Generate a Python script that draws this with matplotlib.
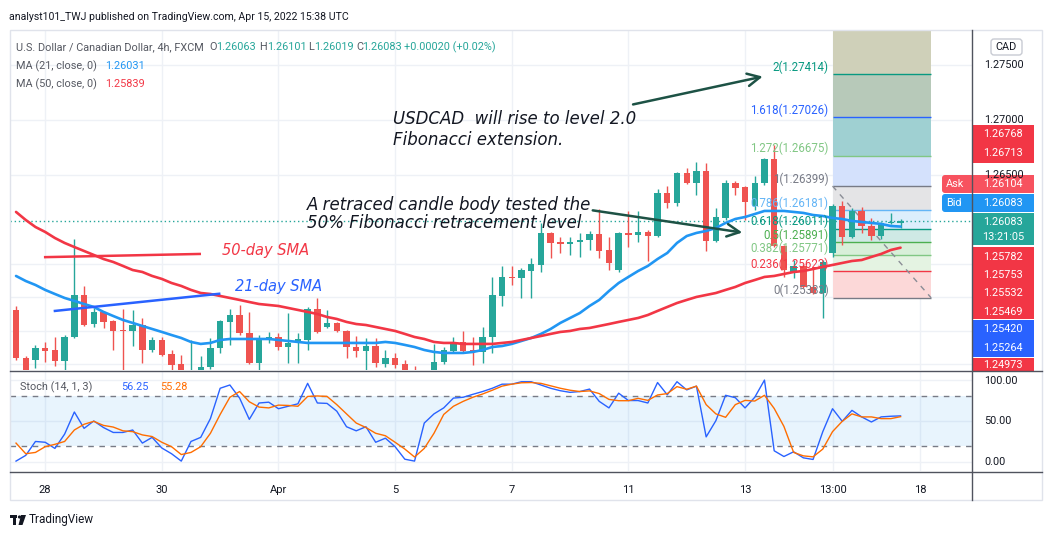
import numpy as np
import matplotlib.pyplot as plt
from matplotlib.patches import Rectangle, FancyBboxPatch, Polygon, Circle

plt.rcParams['font.family'] = ['Roboto', 'DejaVu Sans']

# USD/CAD 4h candles
opens = [1.25273, 1.24836, 1.24818, 1.24927, 1.24909, 1.24809, 1.25027, 1.25409, 1.25145, 1.25255,
         1.25173, 1.25091, 1.25082, 1.25136, 1.24909, 1.25000, 1.24873, 1.24782, 1.24673, 1.24709,
         1.24755, 1.24927, 1.25164, 1.25227, 1.25064, 1.24791, 1.25009, 1.25027, 1.24936, 1.24973,
         1.25000, 1.25282, 1.25118, 1.25155, 1.25082, 1.24936, 1.24900, 1.24945, 1.24782, 1.24836,
         1.24782, 1.24709, 1.24636, 1.24709, 1.24800, 1.24900, 1.24982, 1.24909, 1.24891, 1.25027,
         1.25400, 1.25573, 1.25564, 1.25627, 1.25682, 1.25973, 1.25891, 1.25873, 1.25891, 1.25909,
         1.25964, 1.25818, 1.25636, 1.25973, 1.25955, 1.25982, 1.25945, 1.26336, 1.26245, 1.26518,
         1.26427, 1.26536, 1.25900, 1.26109, 1.26427, 1.26391, 1.26218, 1.26427, 1.26645, 1.25855,
         1.25609, 1.25673, 1.25482, 1.25427, 1.25791, 1.26218, 1.25936, 1.26173, 1.26036, 1.25945,
         1.26064, 1.26063]
highs = [1.25309, 1.24855, 1.24955, 1.24982, 1.25027, 1.25045, 1.25918, 1.25491, 1.25291, 1.25264,
         1.25182, 1.25282, 1.25273, 1.25200, 1.25027, 1.25027, 1.24909, 1.24864, 1.25000, 1.24855,
         1.25018, 1.25182, 1.25282, 1.25318, 1.25255, 1.25045, 1.25073, 1.25064, 1.25245, 1.25064,
         1.25300, 1.25382, 1.25273, 1.25164, 1.25091, 1.25036, 1.25018, 1.25018, 1.24909, 1.24882,
         1.24818, 1.24764, 1.24709, 1.24964, 1.24936, 1.25027, 1.25082, 1.25027, 1.25118, 1.25573,
         1.25673, 1.25673, 1.25655, 1.25745, 1.26064, 1.25982, 1.25936, 1.25936, 1.25973, 1.25991,
         1.26191, 1.25936, 1.25982, 1.26173, 1.26173, 1.26000, 1.26373, 1.26400, 1.26527, 1.26564,
         1.26618, 1.26609, 1.26200, 1.26455, 1.26445, 1.26400, 1.26491, 1.26655, 1.26773, 1.25864,
         1.25727, 1.25691, 1.25664, 1.25727, 1.26236, 1.26264, 1.26200, 1.26209, 1.26109, 1.26073,
         1.26155, 1.26101]
lows = [1.24818, 1.24691, 1.24745, 1.24800, 1.24764, 1.24727, 1.25018, 1.25127, 1.25118, 1.25109,
        1.24909, 1.24709, 1.24945, 1.24791, 1.24891, 1.24855, 1.24727, 1.24691, 1.24655, 1.24682,
        1.24736, 1.24882, 1.24955, 1.25045, 1.24782, 1.24727, 1.24973, 1.24909, 1.24791, 1.24791,
        1.24909, 1.25064, 1.25109, 1.25073, 1.24836, 1.24845, 1.24727, 1.24755, 1.24755, 1.24745,
        1.24682, 1.24591, 1.24591, 1.24682, 1.24782, 1.24891, 1.24891, 1.24773, 1.24791, 1.24882,
        1.25309, 1.25500, 1.25382, 1.25382, 1.25618, 1.25745, 1.25791, 1.25773, 1.25755, 1.25818,
        1.25745, 1.25636, 1.25618, 1.25845, 1.25891, 1.25718, 1.25936, 1.26200, 1.26218, 1.26418,
        1.26318, 1.25809, 1.25891, 1.26091, 1.26318, 1.26091, 1.26182, 1.26409, 1.25845, 1.25573,
        1.25564, 1.25473, 1.25418, 1.25200, 1.25755, 1.25864, 1.25927, 1.25973, 1.25909, 1.25918,
        1.26055, 1.26019]
closes = [1.24836, 1.24709, 1.24927, 1.24900, 1.24809, 1.25027, 1.25409, 1.25136, 1.25255, 1.25164,
          1.25082, 1.25082, 1.25136, 1.24909, 1.25000, 1.24864, 1.24773, 1.24709, 1.24709, 1.24755,
          1.24927, 1.25173, 1.25227, 1.25064, 1.24791, 1.25018, 1.25027, 1.24936, 1.24973, 1.25009,
          1.25282, 1.25073, 1.25155, 1.25082, 1.24936, 1.24900, 1.24945, 1.24791, 1.24836, 1.24773,
          1.24709, 1.24655, 1.24682, 1.24800, 1.24909, 1.24982, 1.24900, 1.24891, 1.25027, 1.25409,
          1.25573, 1.25564, 1.25636, 1.25691, 1.25973, 1.25882, 1.25873, 1.25891, 1.25909, 1.25964,
          1.25809, 1.25700, 1.25973, 1.25955, 1.25982, 1.25945, 1.26336, 1.26245, 1.26518, 1.26427,
          1.26536, 1.25900, 1.26118, 1.26427, 1.26382, 1.26255, 1.26427, 1.26645, 1.25855, 1.25636,
          1.25673, 1.25482, 1.25427, 1.25709, 1.26218, 1.25936, 1.26173, 1.26036, 1.25945, 1.26064,
          1.26073, 1.26083]

ma21 = [1.25582, 1.25536, 1.25500, 1.25455, 1.25418, 1.25382, 1.25355, 1.25327, 1.25300, 1.25255,
        1.25218, 1.25182, 1.25155, 1.25127, 1.25100, 1.25073, 1.25045, 1.25018, 1.24982, 1.24964,
        1.24973, 1.25000, 1.25009, 1.25009, 1.25009, 1.25009, 1.25009, 1.25000, 1.24991, 1.24982,
        1.24973, 1.24973, 1.24973, 1.24973, 1.24973, 1.24973, 1.24973, 1.24973, 1.24982, 1.24973,
        1.24955, 1.24936, 1.24909, 1.24891, 1.24882, 1.24882, 1.24882, 1.24891, 1.24909, 1.24936,
        1.24945, 1.24964, 1.24991, 1.25018, 1.25055, 1.25100, 1.25155, 1.25200, 1.25245, 1.25309,
        1.25364, 1.25445, 1.25518, 1.25573, 1.25627, 1.25673, 1.25736, 1.25791, 1.25882, 1.25945,
        1.25973, 1.25991, 1.26018, 1.26064, 1.26100, 1.26118, 1.26145, 1.26173, 1.26173, 1.26173,
        1.26164, 1.26155, 1.26136, 1.26127, 1.26109, 1.26100, 1.26082, 1.26073, 1.26064, 1.26055,
        1.26036, 1.26031]
ma50 = [1.26164, 1.26091, 1.26027, 1.25982, 1.25927, 1.25882, 1.25845, 1.25809, 1.25773, 1.25736,
        1.25709, 1.25673, 1.25636, 1.25618, 1.25582, 1.25555, 1.25518, 1.25491, 1.25455, 1.25427,
        1.25418, 1.25400, 1.25382, 1.25364, 1.25345, 1.25327, 1.25318, 1.25309, 1.25291, 1.25273,
        1.25255, 1.25236, 1.25209, 1.25191, 1.25164, 1.25145, 1.25136, 1.25118, 1.25100, 1.25082,
        1.25055, 1.25027, 1.25009, 1.24982, 1.24973, 1.24973, 1.24964, 1.24964, 1.24964, 1.24964,
        1.24973, 1.24982, 1.25000, 1.25018, 1.25036, 1.25055, 1.25073, 1.25082, 1.25100, 1.25109,
        1.25127, 1.25145, 1.25164, 1.25182, 1.25200, 1.25227, 1.25264, 1.25300, 1.25336, 1.25364,
        1.25391, 1.25409, 1.25427, 1.25455, 1.25482, 1.25518, 1.25545, 1.25573, 1.25582, 1.25600,
        1.25618, 1.25627, 1.25645, 1.25664, 1.25682, 1.25700, 1.25718, 1.25727, 1.25755, 1.25782,
        1.25818, 1.25839]

stoch_k = [1, 8, 25, 24, 16.5, 34, 61, 41, 50, 42,
           36, 36, 39, 23, 30, 17, 10, 1, 25, 30,
           53, 90, 94, 78, 52, 72, 73, 65, 68, 71,
           96, 72, 71.5, 62, 43, 38, 43, 24, 29, 18.6,
           3.3, 1, 47.5, 58.7, 66, 78, 79, 82.6, 86, 90,
           95, 95, 98, 98, 94, 90, 87, 85, 86, 89,
           74, 66, 84, 75, 75, 72, 97, 82, 98, 88,
           92.6, 30.6, 50.4, 81.4, 78.5, 66, 79, 100, 13.6, 6.6,
           12.4, 5, 3, 37, 65, 49.6, 63, 55, 48.8, 55,
           55.8, 56.25]
stoch_d = [23, 10, 11.6, 18.6, 21.5, 25, 39, 46, 49.6, 44.6,
           42.6, 38, 37, 33, 31, 24, 18.6, 9, 11.6, 18.6,
           35, 58, 79, 86, 73.5, 67, 66, 69.4, 69, 68,
           80, 80.6, 80, 70, 58.7, 47.5, 42, 35, 32, 24,
           15.7, 6, 16.5, 35, 58, 68, 74, 79, 83, 87.6,
           92.6, 95, 96.7, 97, 96, 93, 90, 87.6, 86, 86.8,
           83.5, 76.4, 74.8, 74.8, 77.7, 75.2, 81.8, 83.5, 92, 88.8,
           92.6, 70, 58.7, 54.5, 70, 75.2, 74.4, 81.4, 65.3, 43.4,
           11.6, 7.4, 6.2, 15.7, 37, 49.6, 58.7, 55, 55, 52.9,
           52.9, 55.28]

# time axis
tick_pos = [3, 15, 27, 39, 51, 63, 75, 84, 93]
tick_labels = ['28', '30', 'Apr', '5', '7', '11', '13', '13:00', '18']
price_grid = [1.275, 1.27, 1.265, 1.25691, 1.25391, 1.25082, 1.24782]

# fibonacci extension
fib_levels = ['0', '0.236', '0.382', '0.5', '0.618', '0.786', '1', '1.272', '1.618', '2']
fib_prices = [1.25383, 1.25623, 1.25771, 1.25891, 1.26011, 1.26181, 1.26399, 1.26675, 1.27026, 1.27414]
fib_line_colors = ['#787b86', '#f23645', '#81c784', '#4caf50', '#089981', '#64b5f6',
                   '#787b86', '#81c784', '#2962ff', '#089981']
fib_fill_colors = ['#fcd8d8', '#e4f3e2', '#d8efd9', '#cfe9e5', '#dceefc', '#e4e4e6',
                   '#d4e1fc', '#9fd0d2', '#b7c9b9', '#cfd0b9']

GREEN = '#26a69a'
RED = '#ef5350'
GRID = '#eef1f6'

fig = plt.figure(figsize=(10.52, 5.39), dpi=100)
W, H = 1052, 539

ax = fig.add_axes([10 / W, 1 - 370 / H, 962 / W, 340 / H])
sax = fig.add_axes([10 / W, 1 - 471 / H, 962 / W, 100 / H], sharex=ax)

x = np.arange(len(opens))
o = np.array(opens); c = np.array(closes)
up = c >= o
cols = np.where(up, GREEN, RED)

ax.set_xlim(-0.62, 98.35)
ax.set_ylim(1.24727, 1.27818)

for p in price_grid:
    ax.axhline(p, color=GRID, lw=1, zorder=0)
for t in tick_pos:
    ax.axvline(t, color=GRID, lw=1, zorder=0)
    sax.axvline(t, color=GRID, lw=1, zorder=0)

# fib boxes
f0, f1 = 84, 94.15
tops = fib_prices[1:] + [1.28]
for lo, hi, fc in zip(fib_prices, tops, fib_fill_colors):
    ax.fill_between([f0, f1], lo, hi, color=fc, lw=0, zorder=1)
for lvl, p, lc in zip(fib_levels, fib_prices, fib_line_colors):
    ax.hlines(p, f0, f1, color=lc, lw=1, zorder=2)
    ax.text(83.6, p + 0.00004, f'{lvl}({p:.5f})', color=lc, fontsize=8.3,
            ha='right', va='bottom', zorder=6)
ax.plot([f0, f1], [fib_prices[6], fib_prices[0]], color='#8a8d96', lw=1,
        ls=(0, (4, 4)), zorder=2)

# current price line
ax.axhline(closes[-1], color=GREEN, lw=1, ls=(0, (1, 2)), zorder=2)

# candles
ax.vlines(x, lows, highs, colors=cols, lw=1, zorder=3)
body = np.maximum(np.abs(c - o), 0.00009)
ax.bar(x, body, bottom=np.minimum(o, c), width=0.66, color=cols, lw=0, zorder=4)

# moving averages
ax.plot(x, ma21, color='#2196f3', lw=1.9, zorder=5, solid_capstyle='round')
ax.plot(x, ma50, color='#f23645', lw=1.9, zorder=5, solid_capstyle='round')

# hand drawn lines
ax.plot([3.0, 18.9], [1.25753, 1.25782], color='#f23645', lw=1.8, zorder=6)
ax.plot([4.0, 20.9], [1.25264, 1.25420], color='#2962ff', lw=1.8, zorder=6)
ax.text(21.2, 1.25809, '50-day SMA', color='#f23645', fontsize=10.5, style='italic',
        family='DejaVu Sans', va='center', zorder=7)
ax.text(22.5, 1.25482, '21-day SMA', color='#2962ff', fontsize=10.5, style='italic',
        family='DejaVu Sans', va='center', zorder=7)

note = dict(color='#131722', fontsize=12, style='italic', family='DejaVu Sans',
            va='center', zorder=7)
ax.text(38.8, 1.27009, 'USDCAD  will rise to level 2.0', **note)
ax.text(38.8, 1.26818, 'Fibonacci extension.', **note)
ax.text(29.9, 1.26227, 'A retraced candle body tested the', **note)
ax.text(29.9, 1.26064, '50% Fibonacci retracement level', **note)

arrow_kw = dict(arrowstyle='->,head_length=0.9,head_width=0.45', color='#1d5245', lw=1.8)
ax.annotate('', xy=(77.1, 1.27400), xytext=(63.2, 1.27136), arrowprops=arrow_kw, zorder=7)
ax.annotate('', xy=(75.0, 1.25973), xytext=(59.05, 1.26182), arrowprops=arrow_kw, zorder=7)

for a in (ax, sax):
    for s in a.spines.values():
        s.set_visible(False)
    a.tick_params(length=0)
ax.set_yticks([])
ax.tick_params(labelbottom=False)

# stochastic pane
sax.set_ylim(-11.1, 111.1)
for v in (100, 50, 0):
    sax.axhline(v, color=GRID, lw=1, zorder=0)
sax.axhspan(20, 80, color='#2196f3', alpha=0.1, lw=0, zorder=1)
for v in (80, 20):
    sax.axhline(v, color='#787b86', lw=1, ls=(0, (4, 4)), zorder=2)
sax.plot(x, stoch_k, color='#2962ff', lw=1, zorder=3)
sax.plot(x, stoch_d, color='#ff6d00', lw=1, zorder=3)
sax.set_yticks([])
sax.set_xticks(tick_pos)
sax.set_xticklabels(tick_labels, fontsize=8, color='#131722')
sax.tick_params(axis='x', pad=10)

# overlay in pixel space: frame, legends, price scale
ov = fig.add_axes([0, 0, 1, 1], zorder=10)
ov.set_xlim(0, W); ov.set_ylim(H, 0); ov.axis('off'); ov.patch.set_alpha(0)

ov.add_patch(Rectangle((10, 30), 1032, 470, fill=False, ec='#e0e3eb', lw=1))
ov.plot([972, 972], [30, 500], color='#50535e', lw=1)
ov.plot([10, 1042], [371, 371], color='#50535e', lw=1)
ov.plot([10, 1042], [471.5, 471.5], color='#50535e', lw=1)

ov.text(9, 17, 'analyst101_TWJ published on TradingView.com, Apr 15, 2022 15:38 UTC',
        fontsize=7.6, color='#131722', va='center')

GRAY = '#555861'
legend_rows = [
    (47, [(16, 'U.S. Dollar / Canadian Dollar, 4h, FXCM', GRAY), (209, 'O', GRAY),
          (216, '1.26063', GREEN), (259, 'H', GRAY), (267, '1.26101', GREEN),
          (308, 'L', GRAY), (314, '1.26019', GREEN), (356, 'C', GRAY),
          (362, '1.26083', GREEN), (404, '+0.00020 (+0.02%)', GREEN)]),
    (66, [(16, 'MA (21, close, 0)', GRAY), (105, '1.26031', '#2196f3')]),
    (84, [(16, 'MA (50, close, 0)', GRAY), (105, '1.25839', '#f23645')]),
    (387, [(20, 'Stoch (14, 1, 3)', GRAY), (121, '56.25', '#2962ff'), (160, '55.28', '#ff6d00')]),
]
for yy, parts in legend_rows:
    for xx, s, col in parts:
        ov.text(xx, yy, s, fontsize=7.8, color=col, va='center')

# price scale labels
for yy, s in [(65, '1.27500'), (120, '1.27000'), (175, '1.26500'),
              (381, '100.00'), (421, '50.00'), (462, '0.00')]:
    ov.text(984, yy, s, fontsize=7.8, color='#131722', va='center')

ov.add_patch(FancyBboxPatch((991, 39), 31, 16, boxstyle='round,pad=0,rounding_size=3',
                            fc='white', ec='#c8cbd3', lw=1))
ov.text(1006.5, 47, 'CAD', fontsize=7.8, color='#131722', ha='center', va='center')

boxes = [
    (125, 163, '#f23645', [(134, '1.26768'), (153, '1.26713')]),
    (175, 193, '#f7525f', [(184, '1.26104')]),
    (194, 212, '#2196f3', [(203, '1.26083')]),
    (213, 245, GREEN, [(222, '1.26083'), (237, '13:21:05')]),
    (247, 319, '#f23645', [(257, '1.25782'), (275, '1.25753'), (293, '1.25532'), (312, '1.25469')]),
    (320, 357, '#2962ff', [(329, '1.25420'), (348, '1.25264')]),
    (358, 371, '#f23645', [(365, '1.24973')]),
]
for y0, y1, fc, texts in boxes:
    ov.add_patch(Rectangle((972, y0), 62, y1 - y0, fc=fc, ec='none'))
    for yy, s in texts:
        ov.text(1003, yy, s, fontsize=7.8, color='white', ha='center', va='center')
for y0, y1, fc, s in [(175, 193, '#f7525f', 'Ask'), (194, 212, '#2196f3', 'Bid')]:
    ov.add_patch(FancyBboxPatch((942, y0), 32, y1 - y0, boxstyle='round,pad=0,rounding_size=3',
                                fc=fc, ec='none'))
    ov.text(946, (y0 + y1) / 2, s, fontsize=7.8, color='white', va='center')

# TradingView logo
ov.add_patch(Rectangle((10, 515), 7, 3, fc='#131722', ec='none'))
ov.add_patch(Rectangle((13, 515), 3, 10, fc='#131722', ec='none'))
ov.add_patch(Circle((19.5, 517), 1.6, fc='#131722', ec='none'))
ov.add_patch(Polygon([[21, 515], [26, 515], [22.5, 525], [18.5, 525]], fc='#131722', ec='none'))
ov.text(29, 520, 'TradingView', fontsize=8.5, color='#131722', va='center')

fig.savefig('out.png', dpi=100, facecolor='white')
